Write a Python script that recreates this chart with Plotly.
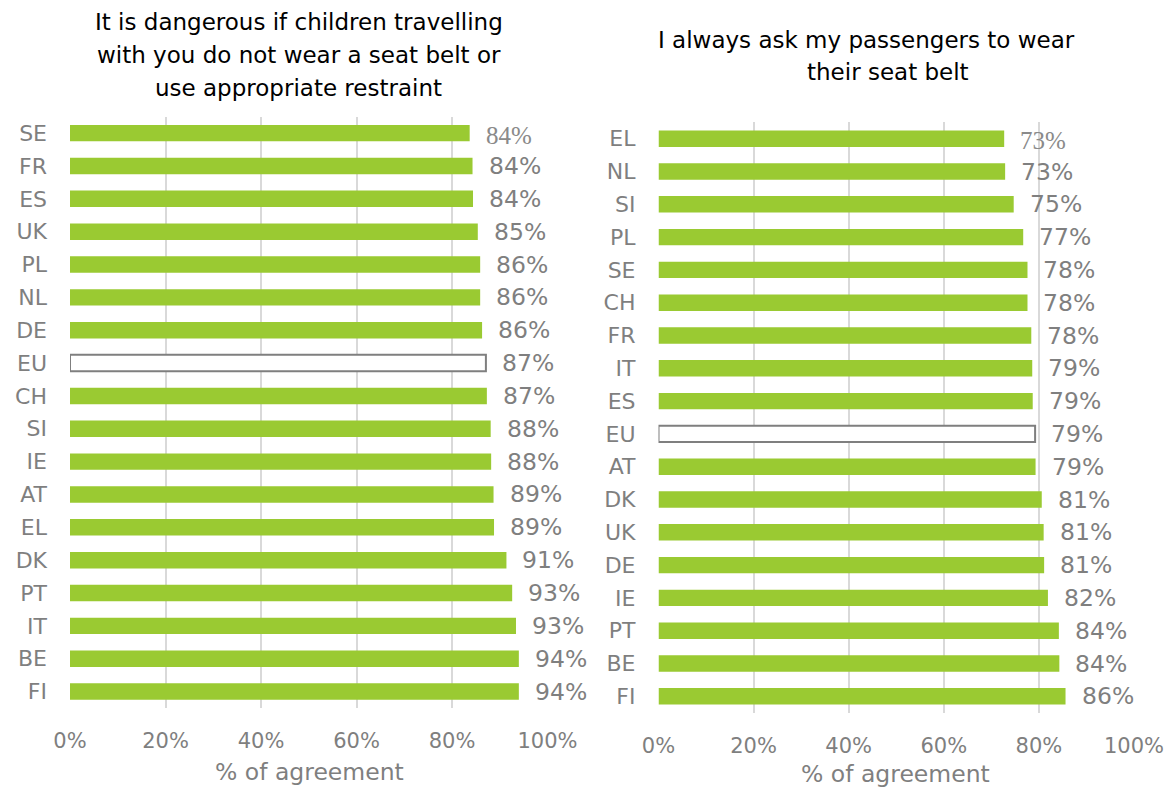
import plotly.graph_objects as go

# Left panel: "It is dangerous if children travelling ..."
left_countries = ["SE", "FR", "ES", "UK", "PL", "NL", "DE", "EU", "CH",
                  "SI", "IE", "AT", "EL", "DK", "PT", "IT", "BE", "FI"]
left_values = [83.7, 84.3, 84.4, 85.4, 85.9, 85.9, 86.3, 87.1, 87.3,
               88.1, 88.2, 88.7, 88.8, 91.4, 92.6, 93.4, 94.0, 94.0]

# Right panel: "I always ask my passengers to wear their seat belt"
right_countries = ["EL", "NL", "SI", "PL", "SE", "CH", "FR", "IT", "ES",
                   "EU", "AT", "DK", "UK", "DE", "IE", "PT", "BE", "FI"]
right_values = [72.7, 72.9, 74.7, 76.7, 77.6, 77.6, 78.4, 78.6, 78.7,
                79.2, 79.3, 80.6, 81.0, 81.1, 81.9, 84.2, 84.3, 85.6]

x_ticks = [0, 20, 40, 60, 80, 100]
x_tick_labels = [f"{t}%" for t in x_ticks]

left_title = ["It is dangerous if children travelling",
              "with you do not wear a seat belt or",
              "use appropriate restraint"]
right_title = ["I always ask my passengers to wear",
               "their seat belt"]
axis_title = "% of agreement"

GREEN = "#9ACA32"
GREY_TEXT = "#7f7f7f"
GRID = "#d9d9d9"
FONT = "DejaVu Sans"

W, H = 1171, 789


def px_x(p):
    return p / W


def px_y(p):
    return 1 - p / H


def bar_trace(cats, vals, xa, ya):
    fills = ["white" if c == "EU" else GREEN for c in cats]
    lcol = [GREY_TEXT if c == "EU" else GREEN for c in cats]
    lw = [2 if c == "EU" else 0 for c in cats]
    return go.Bar(
        x=vals, y=cats, orientation="h", width=0.5,
        marker=dict(color=fills, line=dict(color=lcol, width=lw)),
        xaxis=xa, yaxis=ya, showlegend=False, hoverinfo="x+y",
    )


fig = go.Figure()
fig.add_trace(bar_trace(left_countries, left_values, "x", "y"))
fig.add_trace(bar_trace(right_countries, right_values, "x2", "y2"))

annotations = []


def value_labels(cats, vals, xref, yref):
    for i, (c, v) in enumerate(zip(cats, vals)):
        first = i == 0
        annotations.append(dict(
            x=v, y=c, xref=xref, yref=yref, xanchor="left", yanchor="middle",
            xshift=14, yshift=-2 if first else 0, showarrow=False,
            text=f"{v:.0f}%",
            font=dict(family="Liberation Serif" if first else FONT,
                      size=25 if first else 23.5,
                      color="#8a8a8a" if first else GREY_TEXT),
        ))


value_labels(left_countries, left_values, "x", "y")
value_labels(right_countries, right_values, "x2", "y2")

# Panel titles, one annotation per line
for line, cx, cy in zip(left_title, [299, 298.5, 298], [22, 55, 88]):
    annotations.append(dict(x=px_x(cx), y=px_y(cy), xref="paper", yref="paper",
                            xanchor="center", yanchor="middle", showarrow=False,
                            text=line, font=dict(family=FONT, size=23, color="black")))
for line, cx, cy in zip(right_title, [866, 888], [40, 72]):
    annotations.append(dict(x=px_x(cx), y=px_y(cy), xref="paper", yref="paper",
                            xanchor="center", yanchor="middle", showarrow=False,
                            text=line, font=dict(family=FONT, size=23, color="black")))

# Axis titles
for cx, cy in [(309, 772), (896, 774)]:
    annotations.append(dict(x=px_x(cx), y=px_y(cy), xref="paper", yref="paper",
                            xanchor="center", yanchor="middle", showarrow=False,
                            text=axis_title,
                            font=dict(family=FONT, size=23.5, color=GREY_TEXT)))

xaxis_common = dict(
    range=[0, 100], tickmode="array", tickvals=x_ticks, ticktext=x_tick_labels,
    showgrid=True, gridcolor=GRID, gridwidth=1.5, zeroline=False,
    showline=False, ticks="", automargin=False,
    tickfont=dict(family=FONT, size=21, color=GREY_TEXT),
    ticklabelstandoff=18, fixedrange=True,
)
yaxis_common = dict(
    type="category", range=[17.5, -0.5], showgrid=False, zeroline=False,
    showline=False, ticks="", ticklabelstandoff=22, automargin=False,
    tickfont=dict(family=FONT, size=22, color=GREY_TEXT), fixedrange=True,
)

fig.update_layout(
    width=W, height=H,
    margin=dict(l=0, r=0, t=0, b=0, autoexpand=False),
    paper_bgcolor="white", plot_bgcolor="white",
    bargap=0.5,
    xaxis=dict(domain=[px_x(70), px_x(547.5)], anchor="y", **xaxis_common),
    yaxis=dict(domain=[px_y(708), px_y(116.7)], anchor="x", **yaxis_common),
    xaxis2=dict(domain=[px_x(658.5), px_x(1134)], anchor="y2", **xaxis_common),
    yaxis2=dict(domain=[px_y(712.7), px_y(122.3)], anchor="x2", **yaxis_common),
    annotations=annotations,
    font=dict(family=FONT),
)

fig.write_html("out.html")
